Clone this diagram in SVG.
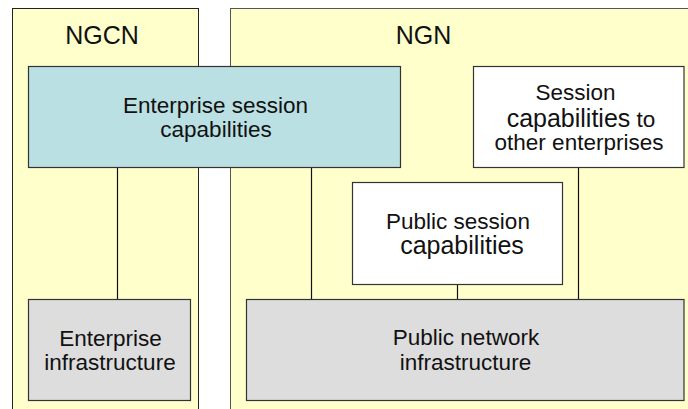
<svg xmlns="http://www.w3.org/2000/svg" width="688" height="409" viewBox="0 0 688 409">
<style>
.panel{fill:#FFFFCC;stroke:#222;stroke-width:1}
.box{stroke:#333;stroke-width:1.2}
.teal{fill:#BBE0E3}
.white{fill:#FFFFFF}
.gray{fill:#DDDDDD}
text{font-family:"Liberation Sans",Arial,sans-serif;font-size:22.5px;fill:#111;text-anchor:middle}
.title{font-size:25px}
.big{font-size:25px}
.conn line{stroke:#111;stroke-width:1.2}
</style>
<rect width="688" height="409" fill="#FFFFFF"/>
<g id="ngcn">
<rect class="panel" x="12.5" y="8.5" width="186" height="410"/>
<text class="title" x="102" y="44">NGCN</text>
</g>
<g id="ngn">
<rect class="panel" x="230.5" y="8.5" width="470" height="410" style="stroke:#555"/>
<text class="title" x="423.5" y="44">NGN</text>
</g>
<g class="conn" id="connectors">
<line x1="117.5" y1="167" x2="117.5" y2="299"/>
<line x1="311.5" y1="167" x2="311.5" y2="299"/>
<line x1="457.5" y1="284" x2="457.5" y2="299"/>
<line x1="578.5" y1="167" x2="578.5" y2="299"/>
</g>
<g id="enterprise-session">
<rect class="box teal" x="28.5" y="66.5" width="372" height="101"/>
<text x="215.5" y="112.5">Enterprise session</text>
<text x="216" y="136.5">capabilities</text>
</g>
<g id="session-other">
<rect class="box white" x="473.5" y="66.5" width="210.5" height="101"/>
<text x="575.5" y="100">Session</text>
<text x="581" y="126.5"><tspan class="big">capabilities</tspan> to</text>
<text x="579" y="150">other enterprises</text>
</g>
<g id="public-session">
<rect class="box white" x="352.5" y="182.5" width="210" height="102"/>
<text x="458" y="228.5">Public session</text>
<text class="big" x="462" y="254">capabilities</text>
</g>
<g id="enterprise-infra">
<rect class="box gray" x="28.5" y="299.5" width="162" height="101"/>
<text x="110.5" y="345.5">Enterprise</text>
<text x="110" y="370">infrastructure</text>
</g>
<g id="public-infra">
<rect class="box gray" x="246.5" y="299.5" width="437.5" height="101"/>
<text x="466" y="345">Public network</text>
<text x="465.5" y="370">infrastructure</text>
</g>
</svg>
